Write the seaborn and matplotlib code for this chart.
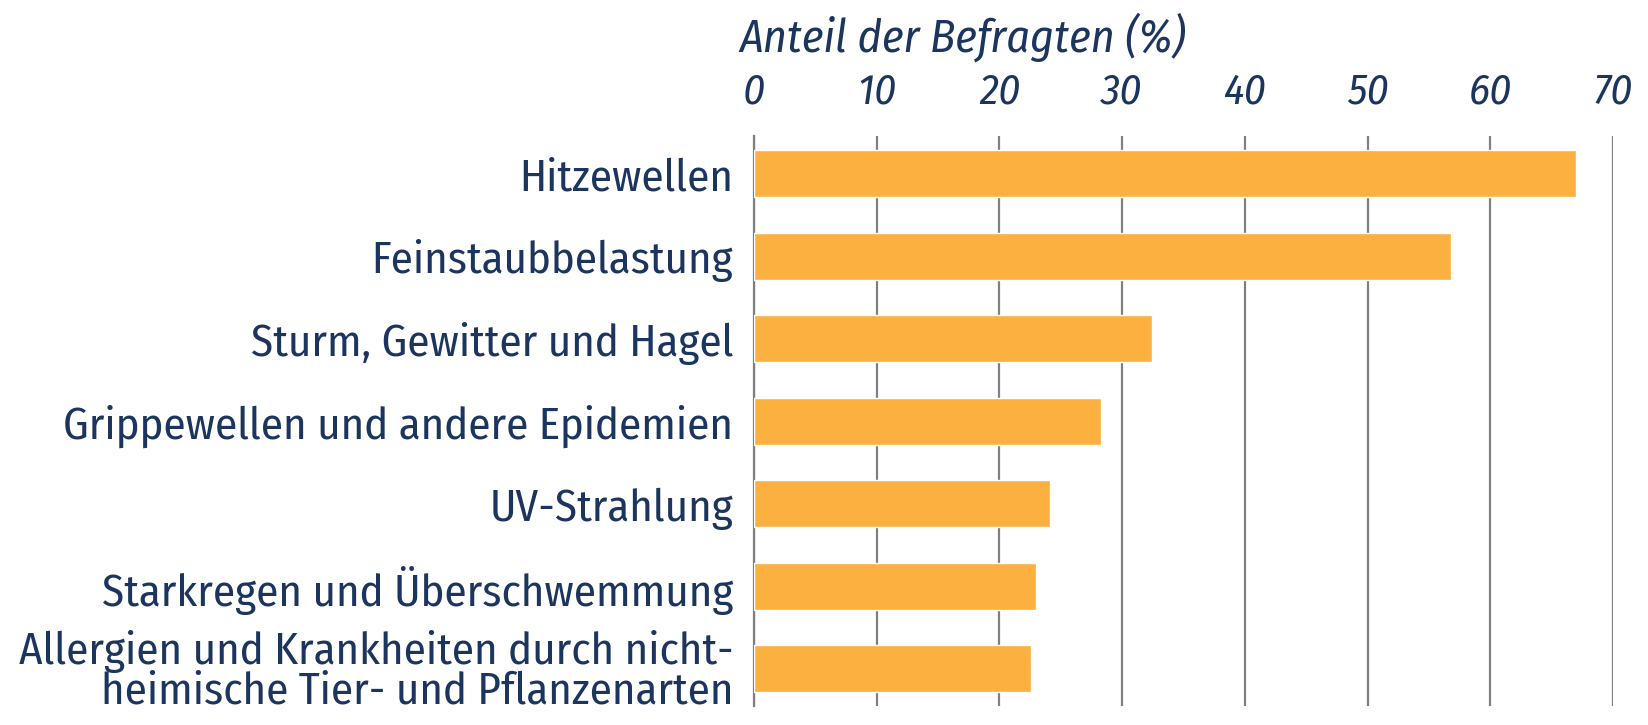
import numpy as np
import pandas as pd
import seaborn as sns
import matplotlib.pyplot as plt

# data
categories = [
    "Hitzewellen",
    "Feinstaubbelastung",
    "Sturm, Gewitter und Hagel",
    "Grippewellen und andere Epidemien",
    "UV-Strahlung",
    "Starkregen und Überschwemmung",
    "Allergien und Krankheiten durch nicht-\nheimische Tier- und Pflanzenarten",
]
anteil = [67.0, 56.8, 32.4, 28.3, 24.1, 23.0, 22.6]
x_ticks = [0, 10, 20, 30, 40, 50, 60, 70]
x_title = "Anteil der Befragten (%)"

navy = "#1c355e"
bar_col = "#fbb040"
grid_col = "#808080"

sns.set_style("white")
plt.rcParams['font.family'] = ['Fira Sans Condensed', 'Roboto Condensed', 'DejaVu Sans']

df = pd.DataFrame({"Kategorie": categories, "Anteil": anteil})

fig = plt.figure(figsize=(16.48, 7.25), dpi=100)
ax = fig.add_axes([754 / 1648, 1 - 706 / 725, (1613 - 754) / 1648, (706 - 136) / 725])

sns.barplot(data=df, x="Anteil", y="Kategorie", orient="h", color=bar_col,
            saturation=1, width=0.57, ax=ax, zorder=3)

ax.set_xlim(0, 70)
ax.set_ylim(6.45, -0.46)
ax.set_xticks(x_ticks)
ax.xaxis.tick_top()
ax.tick_params(axis="x", length=0, pad=17, labelsize=31, labelcolor=navy)
for lbl in ax.get_xticklabels():
    lbl.set_fontstyle("italic")
ax.tick_params(axis="y", length=0, pad=15, labelsize=32.3, labelcolor=navy)
for lbl in ax.get_yticklabels():
    lbl.set_linespacing(0.88)

ax.grid(axis="x", color=grid_col, linewidth=1.6, zorder=0)
ax.grid(axis="y", visible=False)
for s in ["top", "right", "bottom"]:
    ax.spines[s].set_visible(False)
ax.spines["left"].set_color(grid_col)
ax.spines["left"].set_linewidth(1.6)
ax.set_xlabel("")
ax.set_ylabel("")

fig.text(739 / 1648, 1 - 37 / 725, x_title, fontsize=33, fontstyle="italic",
         color=navy, va="center", ha="left")

fig.savefig("out.png", dpi=100)
